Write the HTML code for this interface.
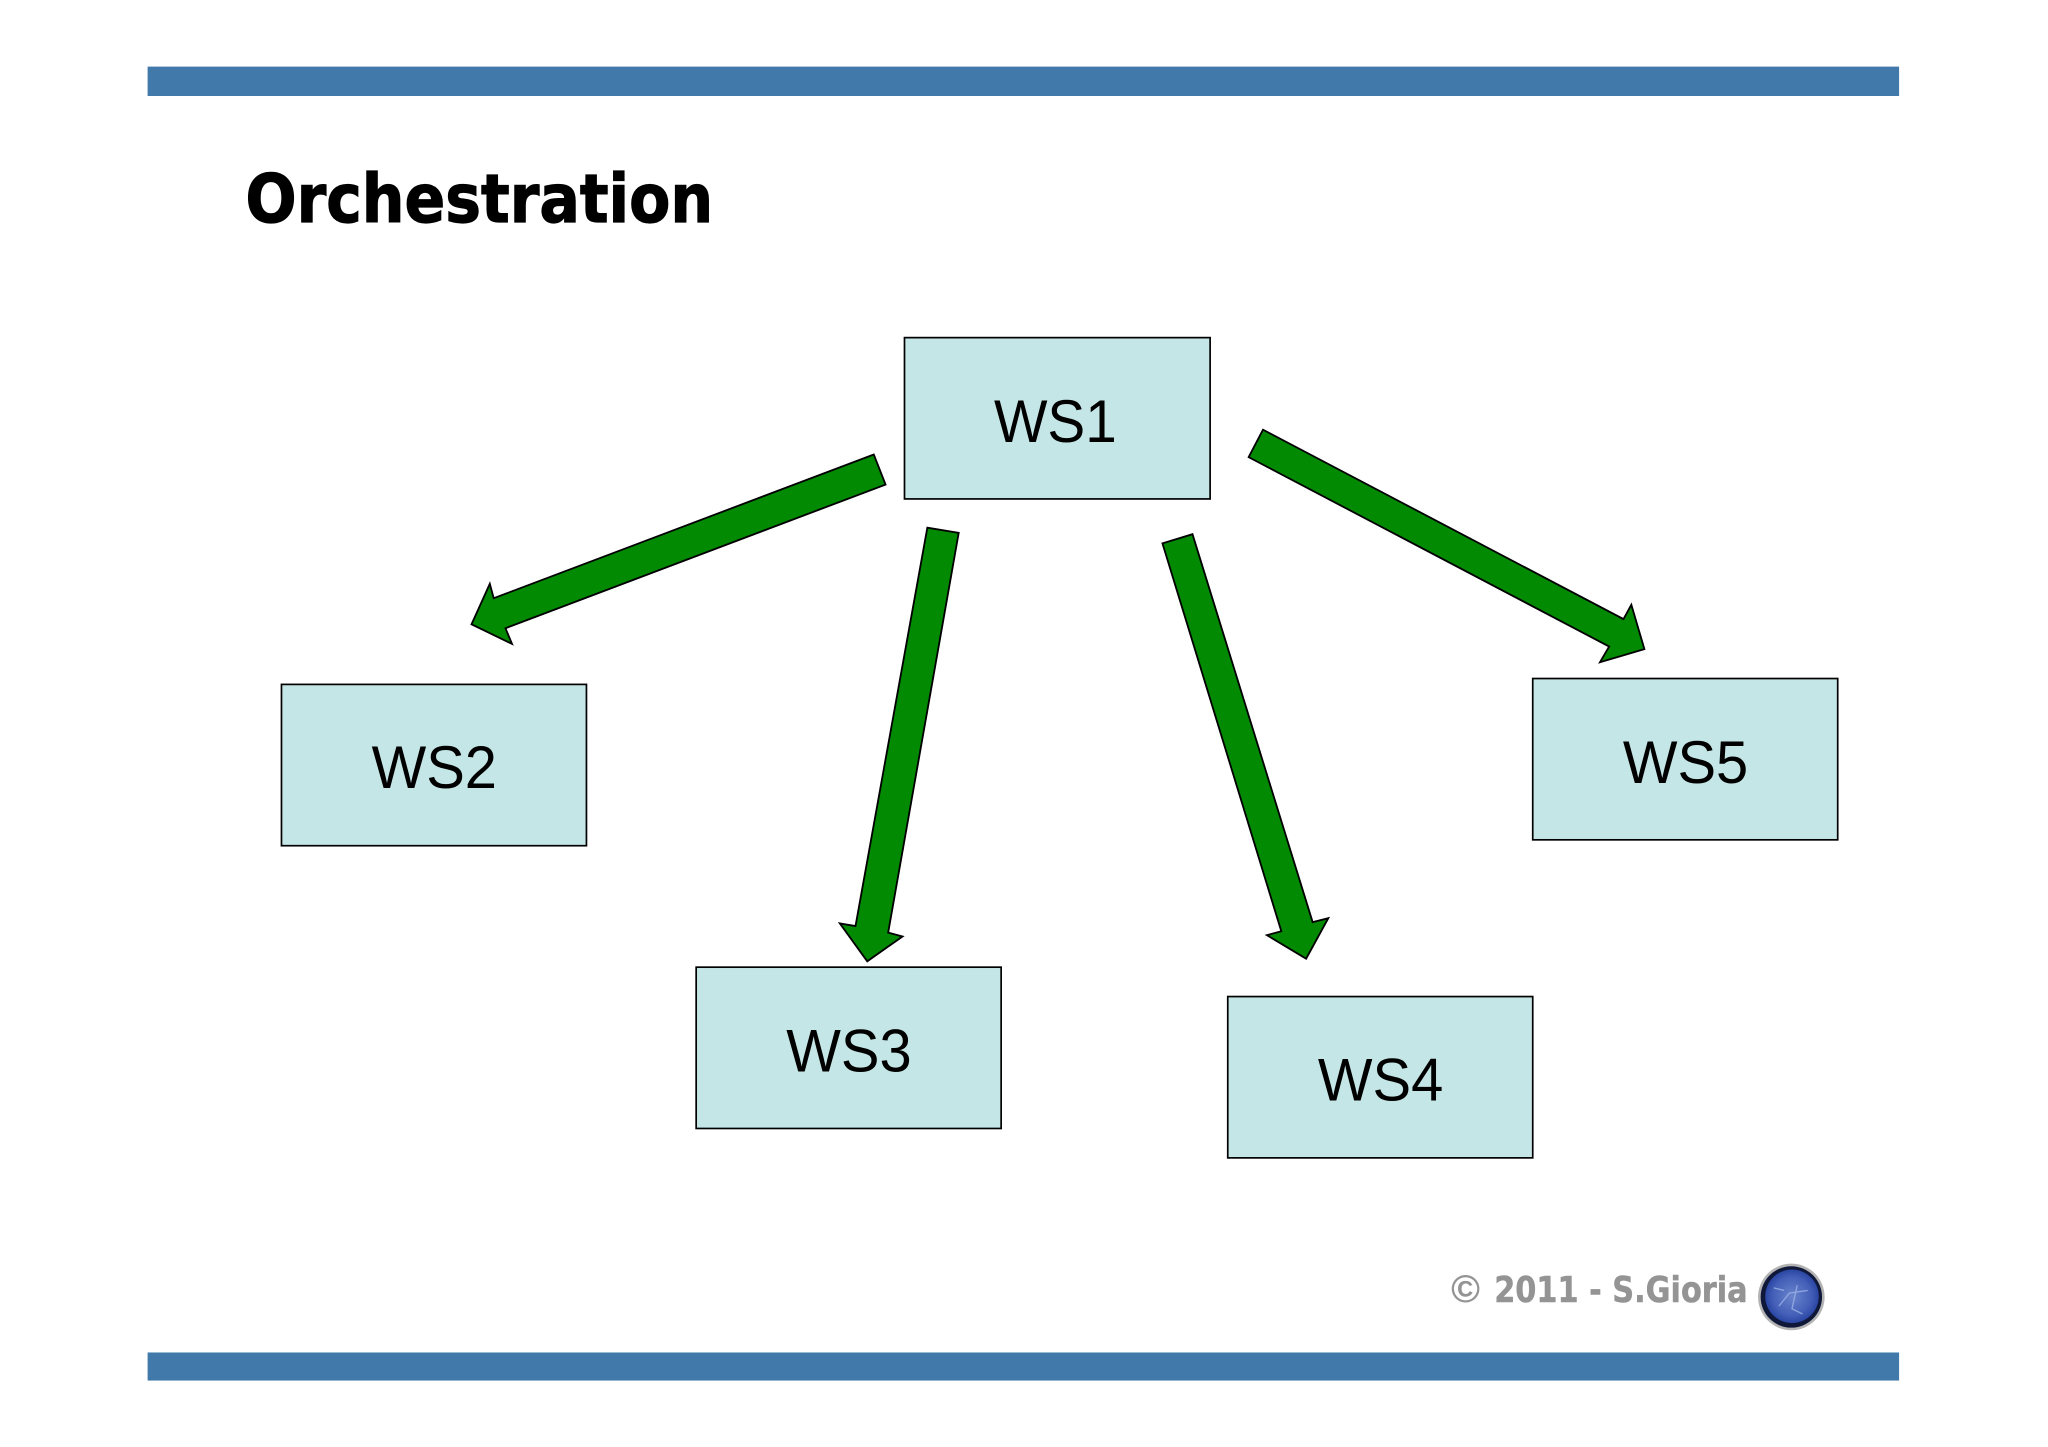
<!DOCTYPE html>
<html>
<head>
<meta charset="utf-8">
<title>Orchestration</title>
<style>
html,body{margin:0;padding:0;background:#fff;width:2048px;height:1447px;overflow:hidden}
svg{display:block}
text{font-family:"Liberation Sans",sans-serif}
</style>
</head>
<body>
<svg xmlns="http://www.w3.org/2000/svg" width="2048" height="1447" viewBox="0 0 1568 1107.87">
<defs>
<radialGradient id="g" cx="50%" cy="50%" r="50%">
<stop offset="0%" stop-color="#6a84cc"/>
<stop offset="70%" stop-color="#4460b8"/>
<stop offset="100%" stop-color="#2a46a4"/>
</radialGradient>
</defs>
<rect width="1568" height="1108" fill="#fff"/>
<rect x="113" y="51" width="1341" height="22.500" fill="#4279ab"/>
<rect x="113" y="1035.500" width="1341" height="21.500" fill="#4279ab"/>
<text x="188" y="170" font-size="51.500" font-weight="700" fill="#000" stroke="#000" stroke-width="0.900" style="font-family:'DejaVu Sans',sans-serif" textLength="358" lengthAdjust="spacingAndGlyphs">Orchestration</text>

<g fill="#c5e6e6" stroke="#000" stroke-width="1.300">
<rect x="692.500" y="258.500" width="234" height="123.500"/>
<rect x="215.500" y="524" width="233.500" height="123.500"/>
<rect x="533" y="740.500" width="233.500" height="123.500"/>
<rect x="940" y="763" width="233.500" height="123.500"/>
<rect x="1173.500" y="519.500" width="233.500" height="123.500"/>
</g>
<g font-size="46.500" fill="#000" lengthAdjust="spacingAndGlyphs">
<text x="761" y="338.500" textLength="94" lengthAdjust="spacingAndGlyphs">WS1</text>
<text x="284.500" y="603.500" textLength="96" lengthAdjust="spacingAndGlyphs">WS2</text>
<text x="602" y="820.500" textLength="96" lengthAdjust="spacingAndGlyphs">WS3</text>
<text x="1009" y="842.500" textLength="96" lengthAdjust="spacingAndGlyphs">WS4</text>
<text x="1242.500" y="599.500" textLength="96" lengthAdjust="spacingAndGlyphs">WS5</text>
</g>

<g fill="#038a03" stroke="#000" stroke-width="1.400" stroke-linejoin="miter">
<polygon points="669,348 378,458 375,447 361,478 392,493 387,481 678,371"/>
<polygon points="710,404 734,408 680,714 691,717 664,736 643,707 655,709"/>
<polygon points="890,416 913,409 1005,706 1017,703 1000,734 970,716 981,713"/>
<polygon points="967,329 956,350 1232,495 1225,507 1259,497 1249,463 1243,474"/>
</g>

<text x="1111" y="997" font-size="30" font-weight="700" fill="#949494">©</text>
<text x="1144" y="997" font-size="27.500" font-weight="700" fill="#949494" stroke="#949494" stroke-width="0.400" style="font-family:'DejaVu Sans',sans-serif" textLength="194" lengthAdjust="spacingAndGlyphs">2011 - S.Gioria</text>

<circle cx="1371.500" cy="993" r="25.500" fill="#b4b4b4"/>
<circle cx="1371.500" cy="993" r="23.500" fill="#10183a"/>
<circle cx="1372" cy="992.500" r="20.500" fill="url(#g)"/>
<g stroke="#9fb4e8" stroke-width="1" fill="none" opacity="0.8">
<path d="M1358 986 L1366 988 M1362 1000 L1370 990 L1384 988 M1376 984 L1372 1002 L1380 1006"/>
</g>
</svg>
</body>
</html>
